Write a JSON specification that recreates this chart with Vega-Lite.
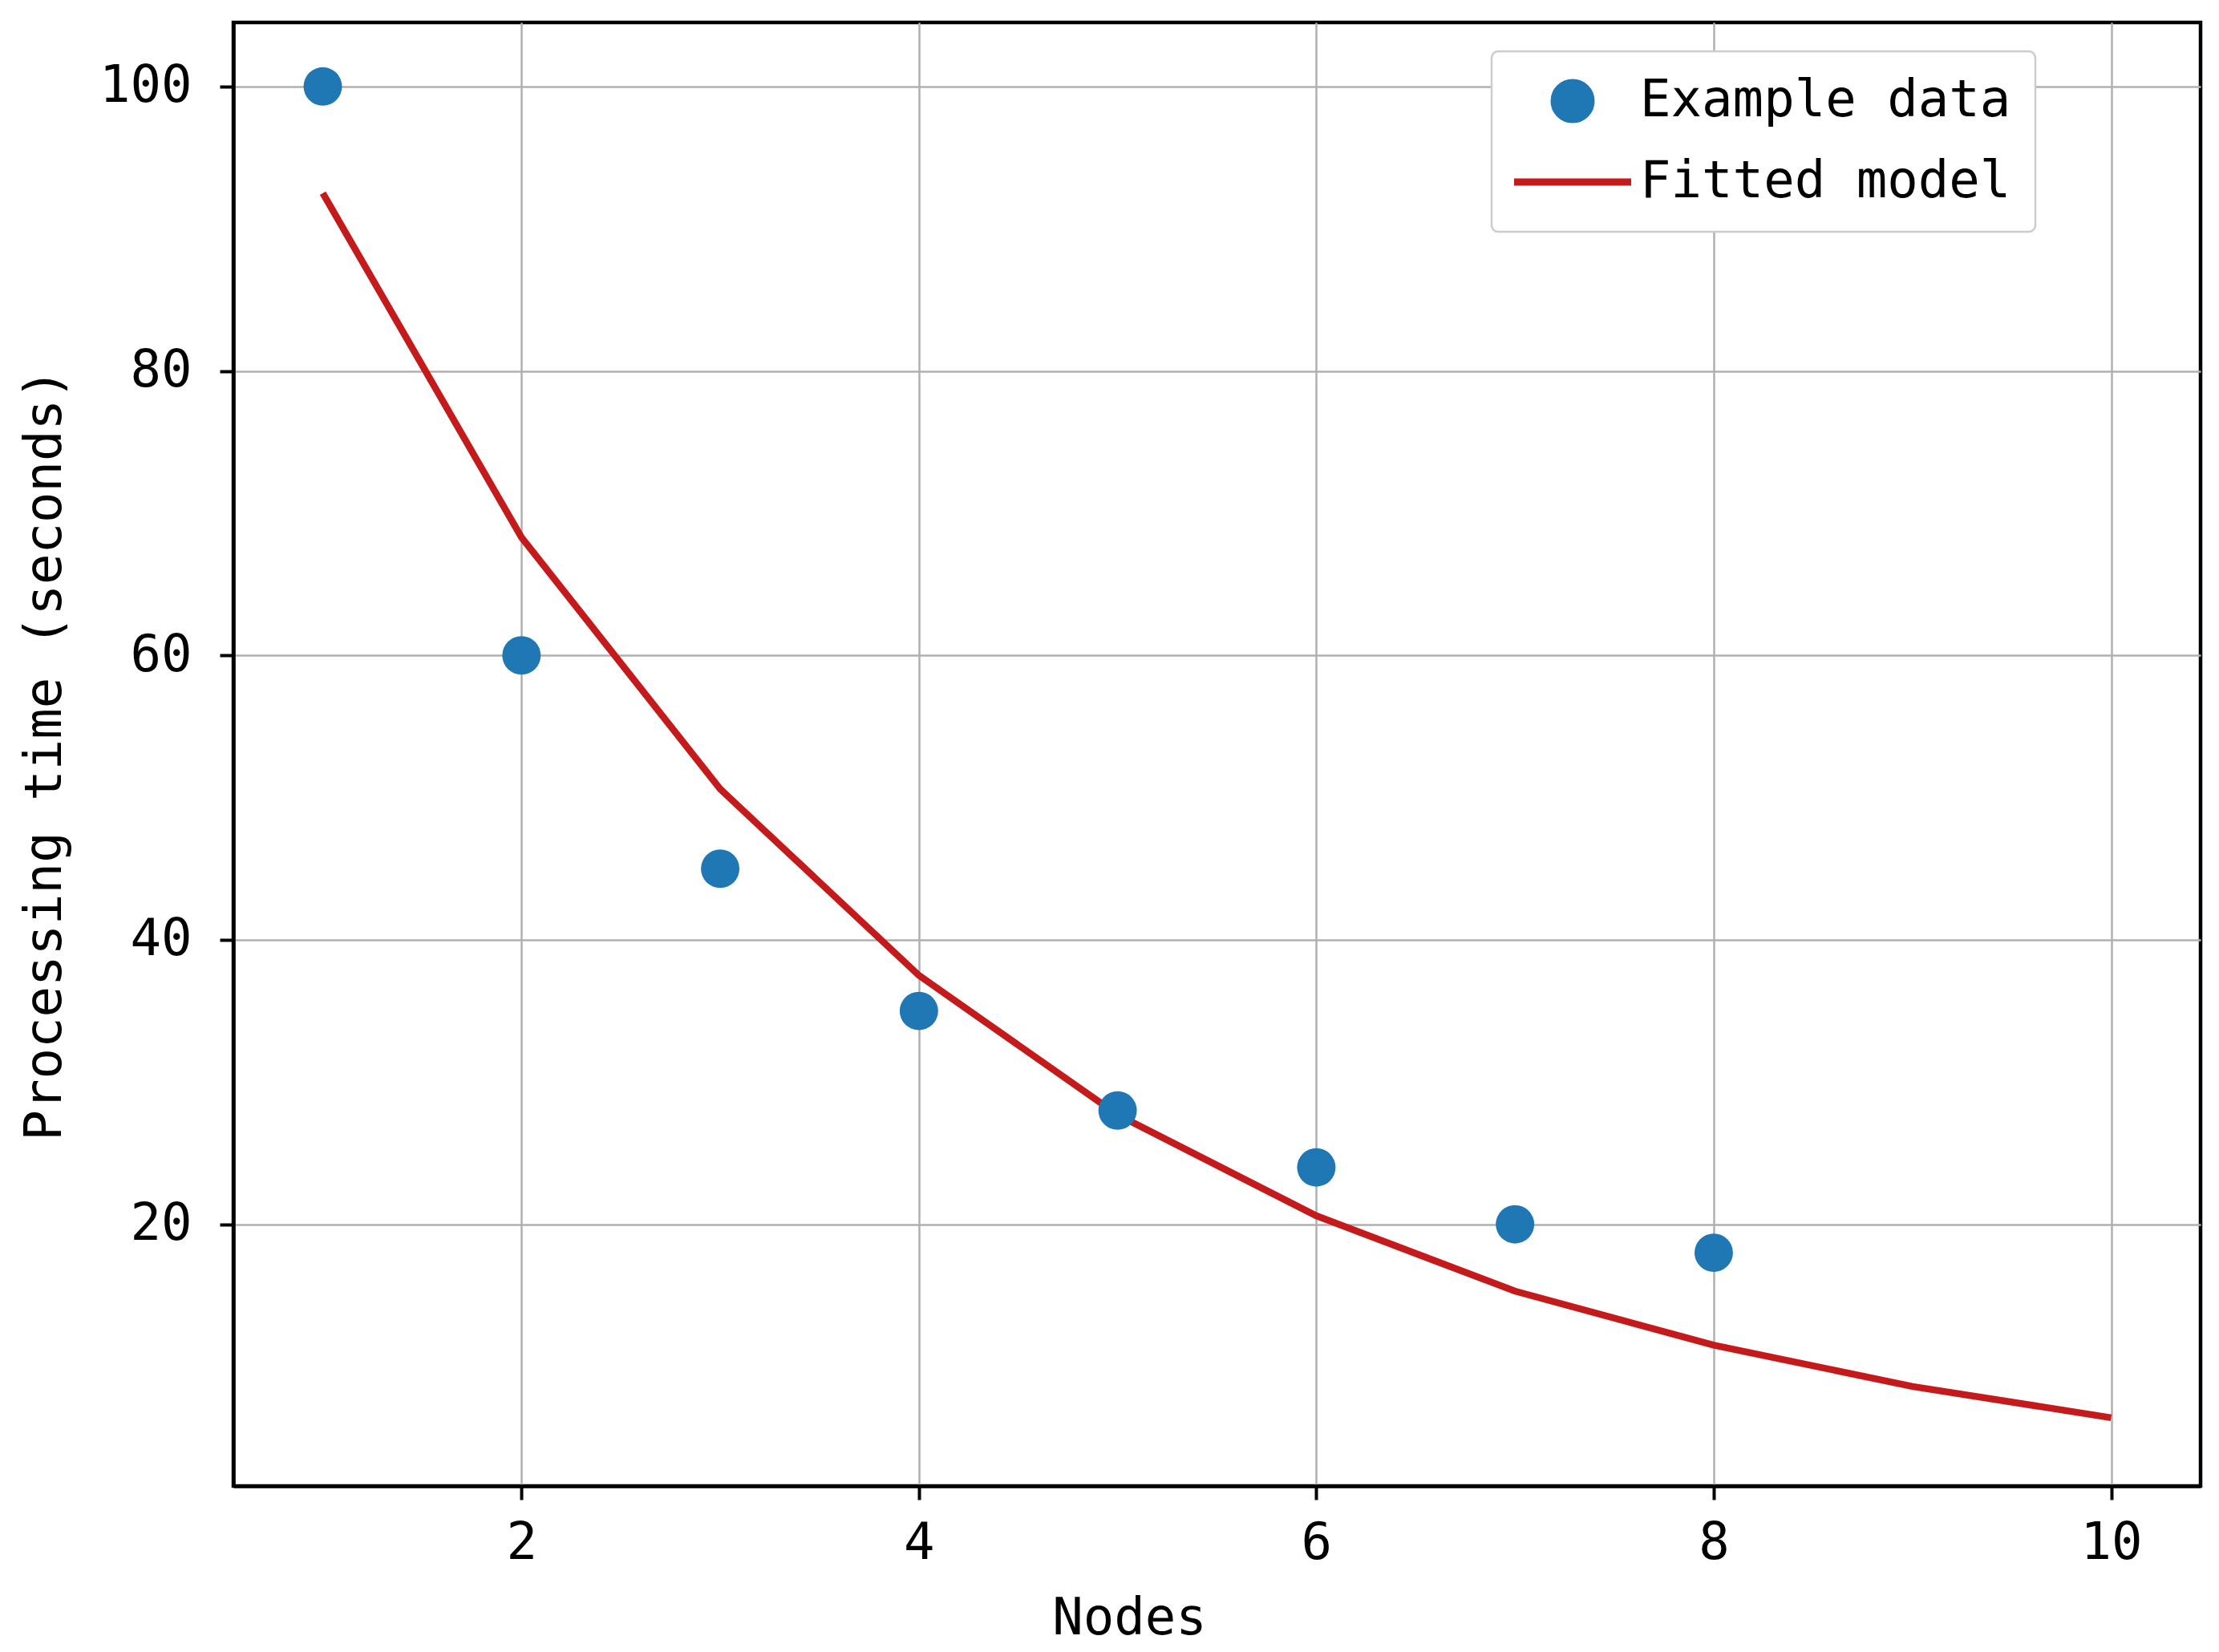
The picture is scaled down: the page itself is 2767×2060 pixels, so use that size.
{
  "$schema": "https://vega.github.io/schema/vega-lite/v6.json",
  "width": 2453,
  "height": 1825,
  "autosize": {"type": "none"},
  "padding": {"left": 291, "top": 28, "right": 23, "bottom": 207},
  "background": "white",
  "datasets": {
    "points": [
      {"Nodes": 1, "time": 100, "series": "Example data"},
      {"Nodes": 2, "time": 60, "series": "Example data"},
      {"Nodes": 3, "time": 45, "series": "Example data"},
      {"Nodes": 4, "time": 35, "series": "Example data"},
      {"Nodes": 5, "time": 28, "series": "Example data"},
      {"Nodes": 6, "time": 24, "series": "Example data"},
      {"Nodes": 7, "time": 20, "series": "Example data"},
      {"Nodes": 8, "time": 18, "series": "Example data"}
    ],
    "model": [
      {"Nodes": 1, "time": 92.5, "series": "Fitted model"},
      {"Nodes": 2, "time": 68.3, "series": "Fitted model"},
      {"Nodes": 3, "time": 50.6, "series": "Fitted model"},
      {"Nodes": 4, "time": 37.5, "series": "Fitted model"},
      {"Nodes": 5, "time": 27.7, "series": "Fitted model"},
      {"Nodes": 6, "time": 20.6, "series": "Fitted model"},
      {"Nodes": 7, "time": 15.3, "series": "Fitted model"},
      {"Nodes": 8, "time": 11.5, "series": "Fitted model"},
      {"Nodes": 9, "time": 8.6, "series": "Fitted model"},
      {"Nodes": 10, "time": 6.4, "series": "Fitted model"}
    ]
  },
  "encoding": {
    "x": {
      "field": "Nodes", "type": "quantitative",
      "scale": {"domain": [0.55, 10.45], "nice": false, "zero": false},
      "axis": {"values": [2, 4, 6, 8, 10], "title": "Nodes", "labelPadding": 22, "titlePadding": 30, "titleX": 1117, "titleAlign": "center"}
    },
    "y": {
      "field": "time", "type": "quantitative",
      "scale": {"domain": [1.6, 104.5], "nice": false, "zero": false},
      "axis": {"values": [20, 40, 60, 80, 100], "title": "Processing time (seconds)", "labelPadding": 35, "titlePadding": 35}
    },
    "color": {
      "field": "series", "type": "nominal",
      "scale": {"domain": ["Example data", "Fitted model"], "range": ["#1f77b4", "#c41a1c"]},
      "legend": {
        "title": null,
        "orient": "none",
        "legendX": 1569,
        "legendY": 36,
        "padding": 30,
        "fillColor": "white",
        "strokeColor": "#cccccc",
        "cornerRadius": 8,
        "labelFont": "DejaVu Sans Mono",
        "labelFontSize": 64,
        "labelColor": "black",
        "labelLimit": 2000,
        "labelOffset": 52,
        "symbolOffset": 39,
        "symbolSize": 2116,
        "rowPadding": 28,
        "encode": {
          "legend": {
            "update": {"strokeWidth": {"value": 2.5}}
          },
          "symbols": {
            "update": {
              "shape": {"signal": "datum.value === 'Fitted model' ? 'stroke' : 'circle'"},
              "size": {"signal": "datum.value === 'Fitted model' ? 21316 : 2116"},
              "fill": {"signal": "datum.value === 'Fitted model' ? 'transparent' : '#1f77b4'"},
              "stroke": {"signal": "datum.value === 'Fitted model' ? '#c41a1c' : 'transparent'"},
              "strokeWidth": {"value": 9},
              "opacity": {"value": 1},
              "fillOpacity": {"value": 1},
              "strokeOpacity": {"value": 1}
            }
          }
        }
      }
    }
  },
  "layer": [
    {
      "data": {"name": "model"},
      "mark": {"type": "line", "strokeWidth": 8.5}
    },
    {
      "data": {"name": "points"},
      "mark": {"type": "point", "filled": true, "size": 2300, "opacity": 1}
    }
  ],
  "config": {
    "view": {"stroke": "black", "strokeWidth": 4.5},
    "axis": {
      "labelFont": "DejaVu Sans Mono",
      "titleFont": "DejaVu Sans Mono",
      "labelFontSize": 64,
      "titleFontSize": 64,
      "titleFontWeight": "normal",
      "labelColor": "black",
      "titleColor": "black",
      "grid": true,
      "gridColor": "#b0b0b0",
      "gridWidth": 2.5,
      "domainColor": "black",
      "domainWidth": 4.5,
      "tickColor": "black",
      "tickWidth": 4,
      "tickSize": 17
    }
  }
}
